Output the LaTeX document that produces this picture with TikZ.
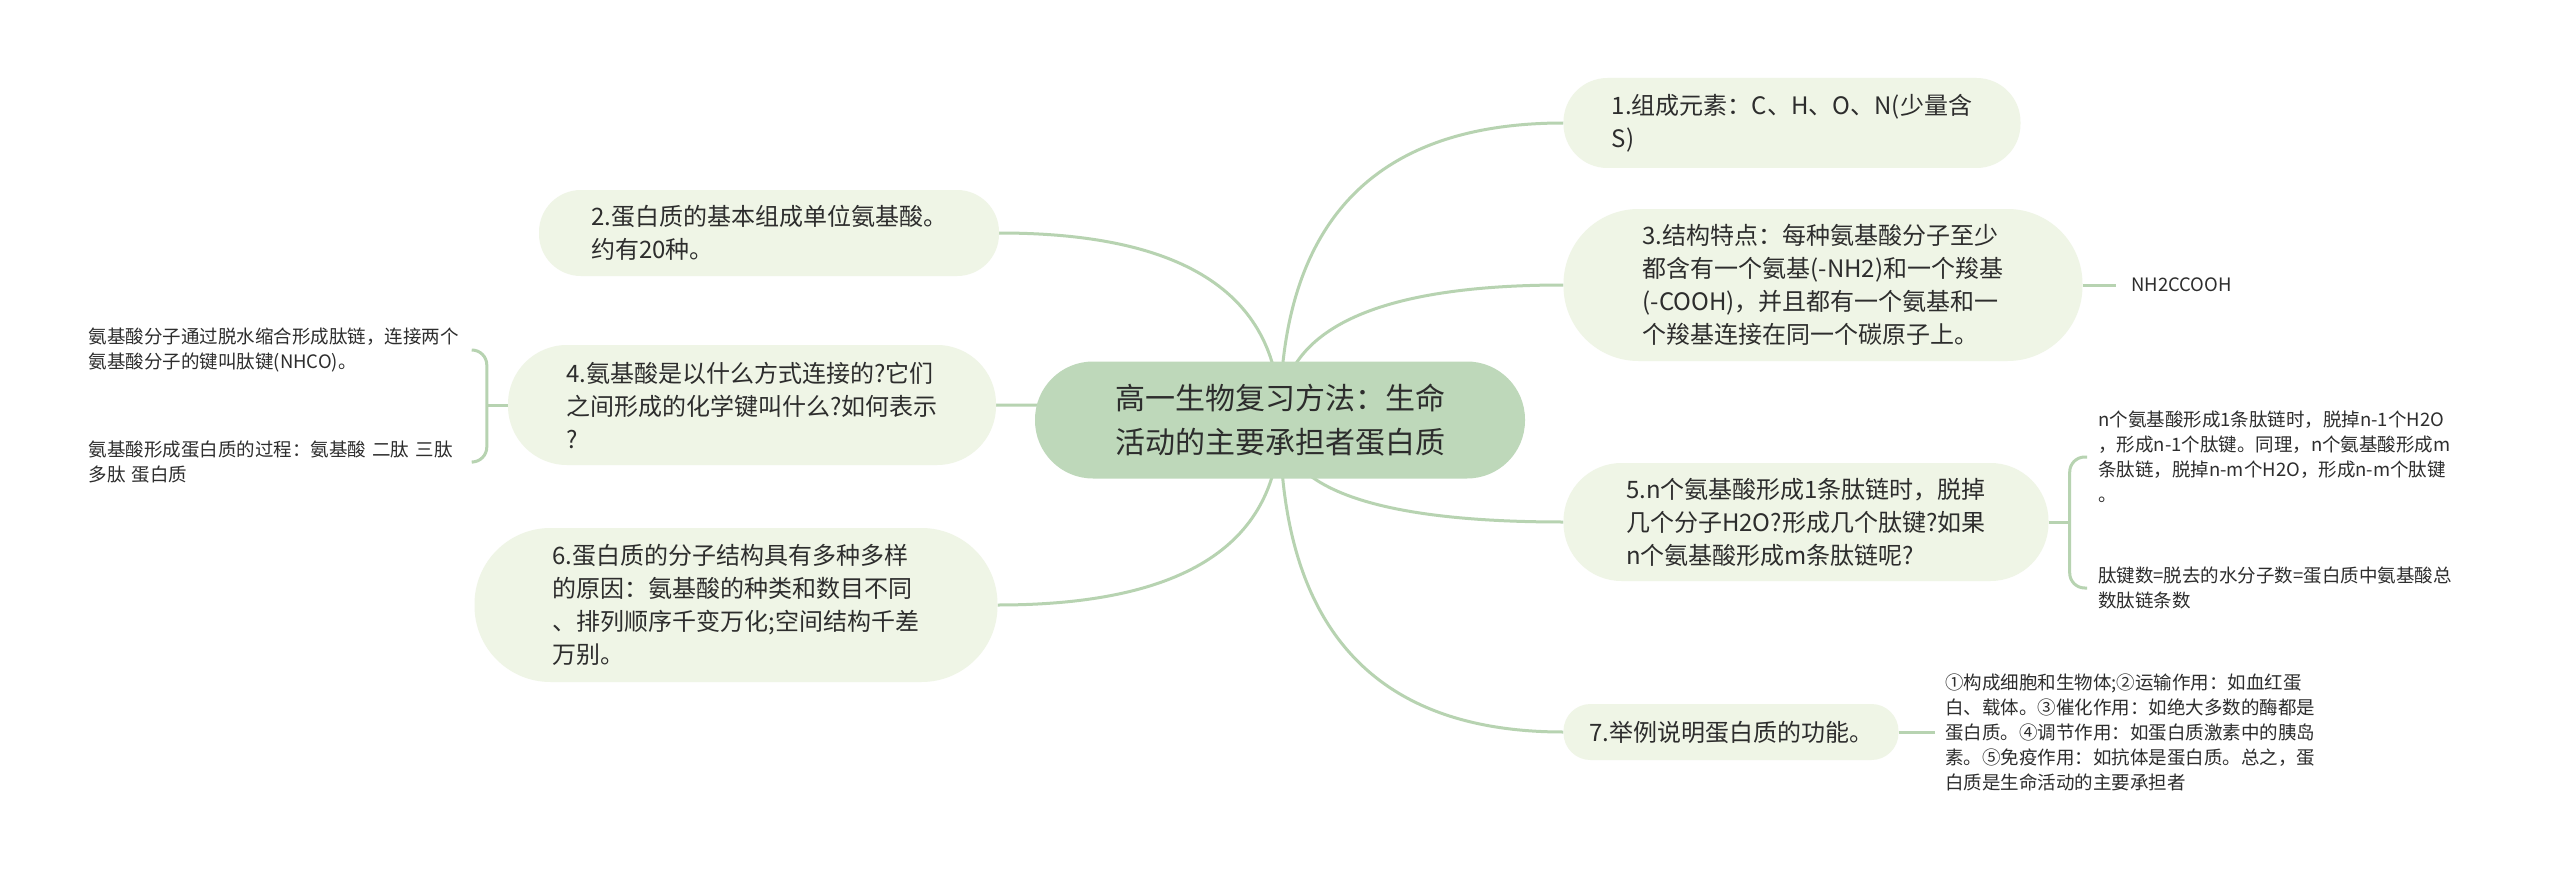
\documentclass[tikz,border=0pt]{standalone}
\usepackage{fontspec}
\setmainfont{Noto Sans CJK SC}
\usetikzlibrary{calc,backgrounds}
\definecolor{nodefill}{RGB}{239,245,230}
\definecolor{rootfill}{RGB}{190,216,186}
\definecolor{linec}{RGB}{183,211,177}
\definecolor{txt}{RGB}{45,45,45}
\tikzset{
  conn/.style={draw=linec, line width=3pt},
  topic/.style={rectangle, fill=nodefill, align=left, text=txt,
    font=\fontsize{24}{33}\selectfont, inner sep=0pt},
  rootbox/.style={rectangle, fill=rootfill, align=center, text=txt,
    font=\fontsize{30}{44}\selectfont, inner sep=0pt},
  leaf/.style={align=left, text=txt, font=\fontsize{18.5}{25}\selectfont, inner ysep=0pt},
}
\begin{document}
\begin{tikzpicture}[x=1pt,y=-1pt]
\useasboundingbox (0,0) rectangle (2560,880);
% central topic
\node[rootbox, minimum width=490pt, minimum height=117pt, rounded corners=58pt] (C) at (1280,420)
  {高一生物复习方法：生命\\活动的主要承担者蛋白质};
% right topics
\node[topic, minimum width=457pt, minimum height=90pt, rounded corners=44pt] (N1) at (1792,123)
  {1.组成元素：C、H、O、N(少量含\\S)};
\node[topic, minimum width=519pt, minimum height=152pt, rounded corners=75pt] (N3) at (1823,285)
  {3.结构特点：每种氨基酸分子至少\\都含有一个氨基(-NH2)和一个羧基\\(-COOH)，并且都有一个氨基和一\\个羧基连接在同一个碳原子上。};
\node[topic, minimum width=485pt, minimum height=118pt, rounded corners=58pt] (N5) at (1806,522)
  {5.n个氨基酸形成1条肽链时，脱掉\\几个分子H2O?形成几个肽键?如果\\n个氨基酸形成m条肽链呢?};
\node[topic, minimum width=335pt, minimum height=56pt, rounded corners=27pt] (N7) at (1731,732)
  {7.举例说明蛋白质的功能。};
% left topics
\node[topic, minimum width=460pt, minimum height=86pt, rounded corners=42pt] (N2) at (769,233)
  {2.蛋白质的基本组成单位氨基酸。\\约有20种。};
\node[topic, minimum width=488pt, minimum height=120pt, rounded corners=59pt] (N4) at (752,405)
  {4.氨基酸是以什么方式连接的?它们\\之间形成的化学键叫什么?如何表示\\?};
\node[topic, minimum width=523pt, minimum height=154pt, rounded corners=76pt] (N6) at (736,605)
  {6.蛋白质的分子结构具有多种多样\\的原因：氨基酸的种类和数目不同\\、排列顺序千变万化;空间结构千差\\万别。};
% leaves
\node[leaf, anchor=west, inner xsep=15pt] (nh) at (2116,285) {NH2CCOOH};
\node[leaf, anchor=west, inner xsep=11pt] (c51) at (2087,457)
  {n个氨基酸形成1条肽链时，脱掉n-1个H2O\\，形成n-1个肽键。同理，n个氨基酸形成m\\条肽链，脱掉n-m个H2O，形成n-m个肽键\\。};
\node[leaf, anchor=west, inner xsep=11pt] (c52) at (2087,588)
  {肽键数=脱去的水分子数=蛋白质中氨基酸总\\数肽链条数};
\node[leaf, anchor=west, inner xsep=10pt] (c71) at (1935,732)
  {①构成细胞和生物体;②运输作用：如血红蛋\\白、载体。③催化作用：如绝大多数的酶都是\\蛋白质。④调节作用：如蛋白质激素中的胰岛\\素。⑤免疫作用：如抗体是蛋白质。总之，蛋\\白质是生命活动的主要承担者};
\node[leaf, anchor=east, text width=375pt, inner xsep=9pt] (c41) at (473,350)
  {氨基酸分子通过脱水缩合形成肽链，连接两个\\氨基酸分子的键叫肽键(NHCO)。};
\node[leaf, anchor=east, text width=375pt, inner xsep=9pt] (c42) at (473,462)
  {氨基酸形成蛋白质的过程：氨基酸~二肽~三肽\\多肽~蛋白质};
\begin{pgfonlayer}{background}
  \fill[white] (0,0) rectangle (2560,880);
  \foreach \n/\a in {N1/west, N3/west, N5/west, N7/west, N2/east, N4/east, N6/east}{
    \coordinate (k) at (C.center |- \n.\a);
    \draw[conn] (C.center) .. controls ($(C.center)!0.667!(k)$) and ($(\n.\a)!0.667!(k)$) .. (\n.\a);
  }
  \draw[conn] (N3.east) -- (nh.west);
  \draw[conn] (N7.east) -- (c71.west);
  \coordinate (b5) at ($(N5.east)+(21,0)$);
  \draw[conn] (N5.east) -- (b5);
  \draw[conn, rounded corners=15pt] (c51.west) -- (c51.west -| b5) -- (c52.west -| b5) -- (c52.west);
  \coordinate (b4) at ($(N4.west)+(-21,0)$);
  \draw[conn] (N4.west) -- (b4);
  \draw[conn, rounded corners=15pt] (c41.east) -- (c41.east -| b4) -- (c42.east -| b4) -- (c42.east);
\end{pgfonlayer}
\end{tikzpicture}
\end{document}
